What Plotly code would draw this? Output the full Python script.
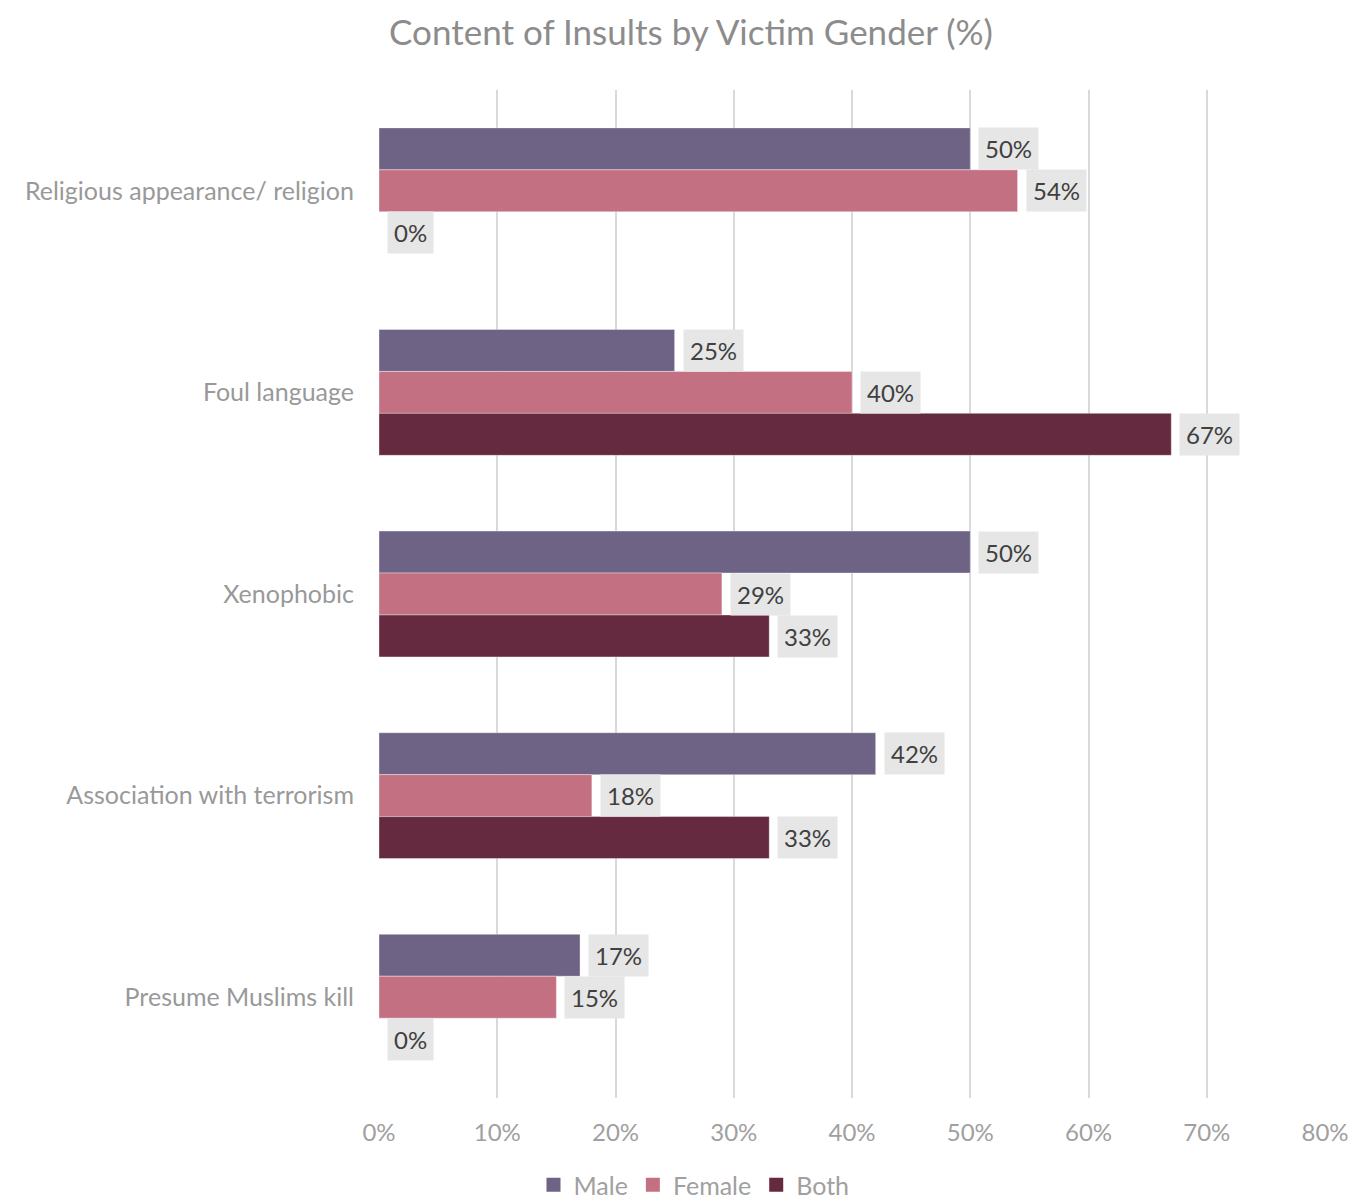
import plotly.graph_objects as go

categories = ["Religious appearance/ religion", "Foul language", "Xenophobic",
              "Association with terrorism", "Presume Muslims kill"]
male = [50, 25, 50, 42, 17]
female = [54, 40, 29, 18, 15]
both = [0, 67, 33, 33, 0]
series_names = ["Male", "Female", "Both"]
colors = ["#6E6384", "#C47083", "#652A40"]
tick_vals = [0, 10, 20, 30, 40, 50, 60, 70, 80]
tick_text = [f"{v}%" for v in tick_vals]

FONT = "Lato"
W, H = 1352, 1199
fig = go.Figure()
for name, vals, col in zip(series_names, [male, female, both], colors):
    fig.add_trace(go.Bar(
        y=categories, x=vals, name=name, orientation="h", showlegend=False,
        marker=dict(color=col, line=dict(color="rgba(255,255,255,0.6)", width=0.6)),
    ))
# legend entries with square swatches
for name, col in zip(series_names, colors):
    fig.add_trace(go.Scatter(
        x=[None], y=[None], mode="markers", name=name,
        marker=dict(symbol="square", size=14, color=col),
    ))

# label annotations with grey background
bar_px = 42
shifts = [bar_px, 0, -bar_px]
for vals, ys in zip([male, female, both], shifts):
    for cat, v in zip(categories, vals):
        fig.add_annotation(
            x=v, y=cat, xref="x", yref="y", text=f"{v}%", showarrow=False,
            xanchor="left", yanchor="middle", xshift=8, yshift=ys,
            bgcolor="#E6E6E6", borderpad=6,
            font=dict(family=FONT, size=24, color="#404040"),
        )

fig.update_layout(
    width=W, height=H,
    barmode="group", bargap=0.376, bargroupgap=0,
    plot_bgcolor="white", paper_bgcolor="white",
    margin=dict(l=379, r=27, t=90, b=101, autoexpand=False),
    title=dict(text="Content of Insults by Victim Gender (%)", x=691 / W, xanchor="center",
               y=1 - 33 / H, yanchor="middle",
               font=dict(family=FONT, size=35, color="#8C8C8C")),
    xaxis=dict(range=[0, 80], tickvals=tick_vals, ticktext=tick_text,
               showgrid=True, gridcolor="#D9D9D9", gridwidth=2,
               zeroline=False, showline=False, ticks="", ticklen=0,
               ticklabelstandoff=18, automargin=False,
               tickfont=dict(family=FONT, size=24, color="#A0A0A0")),
    yaxis=dict(categoryorder="array", categoryarray=categories, autorange="reversed",
               showgrid=False, zeroline=False, showline=False, ticks="outside",
               ticklen=19, tickcolor="rgba(0,0,0,0)", automargin=False,
               tickfont=dict(family=FONT, size=25, color="#999999")),
    legend=dict(orientation="h", xref="container", yref="container",
                x=694 / W, xanchor="center", y=1 - 1185 / H, yanchor="middle",
                font=dict(family=FONT, size=25, color="#A0A0A0"),
                itemwidth=30, traceorder="normal"),
    showlegend=True,
)
fig.write_html("out.html", config={"displayModeBar": False},
               post_script="document.body.style.margin='0px';document.body.style.overflow='hidden';")
